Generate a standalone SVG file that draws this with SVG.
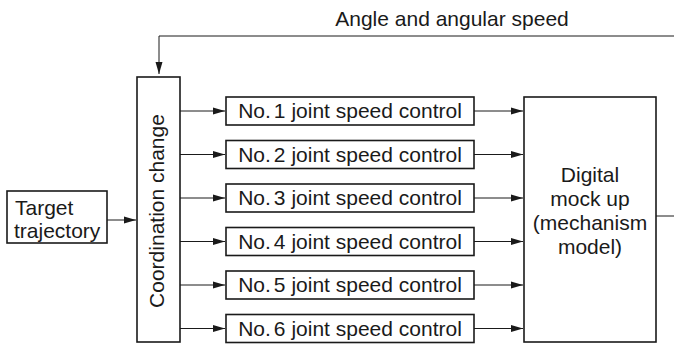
<svg xmlns="http://www.w3.org/2000/svg" width="674" height="345" viewBox="0 0 674 345">
<defs>
<marker id="ah" viewBox="0 0 12 8" refX="12" refY="4" markerWidth="12" markerHeight="8" markerUnits="userSpaceOnUse" orient="auto">
<path d="M0,0.5 L12,4 L0,7.5 Z" fill="#1a1a1a"/>
</marker>
<style>
.box{fill:#fff;stroke:#1a1a1a;stroke-width:1.6}
.ln{fill:none;stroke:#1a1a1a;stroke-width:1}
.t{font-family:"Liberation Sans",Arial,Helvetica,sans-serif;font-size:21px;fill:#1a1a1a}
.c{text-anchor:middle}
</style>
</defs>
<rect width="674" height="345" fill="#fff"/>
<text class="t c" x="452" y="26">Angle and angular speed</text>
<g id="connectors">
<path class="ln" d="M656,216 H677 V36 H159 V74" marker-end="url(#ah)"/>
<line class="ln" x1="107" y1="220" x2="136" y2="220" marker-end="url(#ah)"/>
<line class="ln" x1="180" y1="111" x2="225" y2="111" marker-end="url(#ah)"/>
<line class="ln" x1="180" y1="154.5" x2="225" y2="154.5" marker-end="url(#ah)"/>
<line class="ln" x1="180" y1="198" x2="225" y2="198" marker-end="url(#ah)"/>
<line class="ln" x1="180" y1="241.5" x2="225" y2="241.5" marker-end="url(#ah)"/>
<line class="ln" x1="180" y1="285" x2="225" y2="285" marker-end="url(#ah)"/>
<line class="ln" x1="180" y1="328.5" x2="225" y2="328.5" marker-end="url(#ah)"/>
<line class="ln" x1="474" y1="111" x2="523" y2="111" marker-end="url(#ah)"/>
<line class="ln" x1="474" y1="154.5" x2="523" y2="154.5" marker-end="url(#ah)"/>
<line class="ln" x1="474" y1="198" x2="523" y2="198" marker-end="url(#ah)"/>
<line class="ln" x1="474" y1="241.5" x2="523" y2="241.5" marker-end="url(#ah)"/>
<line class="ln" x1="474" y1="285" x2="523" y2="285" marker-end="url(#ah)"/>
<line class="ln" x1="474" y1="328.5" x2="523" y2="328.5" marker-end="url(#ah)"/>
</g>
<g id="target">
<rect class="box" x="7" y="191" width="100" height="52"/>
<text class="t" x="15" y="215">Target</text>
<text class="t" x="14" y="238">trajectory</text>
</g>
<g id="coord">
<rect class="box" x="137" y="77" width="43" height="265"/>
<text class="t c" transform="translate(164,211) rotate(-90)">Coordination change</text>
</g>
<g id="j1"><rect class="box" x="226" y="97" width="248" height="28"/><text class="t c" x="350" y="118">No.<tspan dx="3">1</tspan> joint speed control</text></g>
<g id="j2"><rect class="box" x="226" y="140.5" width="248" height="28"/><text class="t c" x="350" y="161.5">No.<tspan dx="3">2</tspan> joint speed control</text></g>
<g id="j3"><rect class="box" x="226" y="184" width="248" height="28"/><text class="t c" x="350" y="205">No.<tspan dx="3">3</tspan> joint speed control</text></g>
<g id="j4"><rect class="box" x="226" y="227.5" width="248" height="28"/><text class="t c" x="350" y="248.5">No.<tspan dx="3">4</tspan> joint speed control</text></g>
<g id="j5"><rect class="box" x="226" y="271" width="248" height="28"/><text class="t c" x="350" y="292">No.<tspan dx="3">5</tspan> joint speed control</text></g>
<g id="j6"><rect class="box" x="226" y="314.5" width="248" height="28"/><text class="t c" x="350" y="335.5">No.<tspan dx="3">6</tspan> joint speed control</text></g>
<g id="dmu">
<rect class="box" x="524" y="97" width="132" height="245"/>
<text class="t c" x="590" y="182">Digital</text>
<text class="t c" x="590" y="206">mock up</text>
<text class="t c" x="590" y="230">(mechanism</text>
<text class="t c" x="590" y="254">model)</text>
</g>
</svg>
